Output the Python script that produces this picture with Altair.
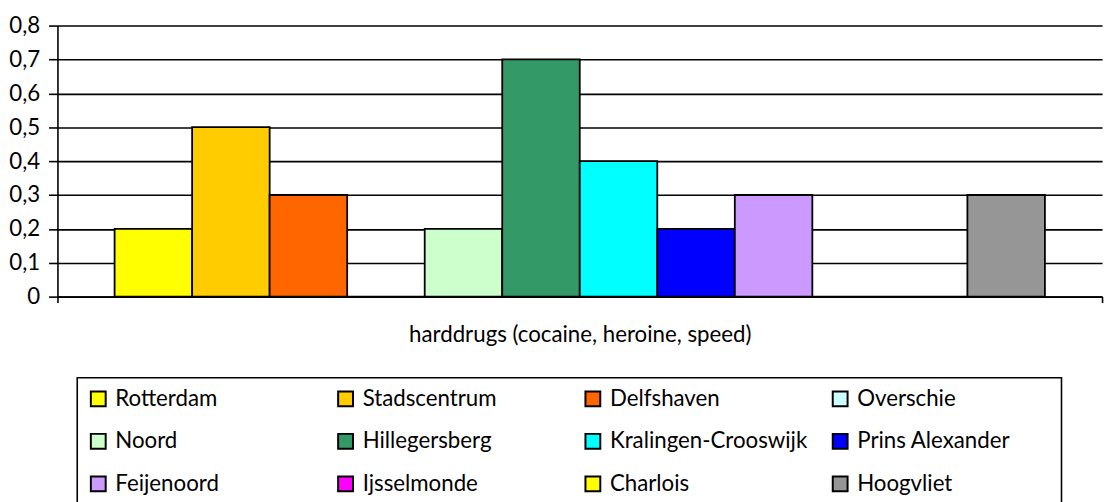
import altair as alt
import pandas as pd

category = "harddrugs (cocaine, heroine, speed)"
districts = ["Rotterdam", "Stadscentrum", "Delfshaven", "Overschie",
             "Noord", "Hillegersberg", "Kralingen-Crooswijk", "Prins Alexander",
             "Feijenoord", "Ijsselmonde", "Charlois", "Hoogvliet"]
values = [0.2, 0.5, 0.3, 0.0, 0.2, 0.7, 0.4, 0.2, 0.3, 0.0, 0.0, 0.3]
colors = ["#FFFF00", "#FFCC00", "#FF6600", "#CCFFFF",
          "#CCFFCC", "#339966", "#00FFFF", "#0000FF",
          "#CC99FF", "#FF00FF", "#FFFF00", "#969696"]
y_ticks = [0, 0.1, 0.2, 0.3, 0.4, 0.5, 0.6, 0.7, 0.8]

df = pd.DataFrame({"cat": [category] * len(districts),
                   "district": districts,
                   "value": values})

FONT = "Lato"

chart = alt.Chart(df).mark_bar(stroke="black", strokeWidth=1.8).encode(
    x=alt.X("cat:N", title="",
            scale=alt.Scale(paddingInner=0, paddingOuter=0),
            axis=alt.Axis(labelAngle=0, tickBand="extent", tickSize=6,
                          labelPadding=21, labelFont=FONT, labelFontSize=22.5,
                          labelColor="black", domainColor="black",
                          tickColor="black", domainWidth=1.6, tickWidth=1.6,
                          labelLimit=800)),
    xOffset=alt.XOffset("district:N",
                        scale=alt.Scale(domain=districts, paddingInner=0,
                                        paddingOuter=0.737)),
    y=alt.Y("value:Q", title="",
            scale=alt.Scale(domain=[0, 0.8], nice=False),
            axis=alt.Axis(values=y_ticks, grid=True, gridColor="black",
                          gridWidth=1.6, domainColor="black", domainWidth=1.6,
                          tickColor="black", tickWidth=1.6, tickSize=9,
                          labelPadding=9, labelFont=FONT, labelFontSize=22.5,
                          labelColor="black",
                          labelExpr="datum.value == 0 ? '0' : replace(format(datum.value, '.1f'), '.', ',')")),
    color=alt.Color("district:N",
                    scale=alt.Scale(domain=districts, range=colors),
                    legend=alt.Legend(title=" ", titleOrient="right",
                                      titlePadding=42, titleFontSize=10,
                                      orient="none",
                                      direction="horizontal",
                                      legendX=20, legendY=356,
                                      columns=4, gridAlign="all",
                                      columnPadding=20, rowPadding=19,
                                      symbolType="square", symbolSize=225,
                                      symbolStrokeColor="black",
                                      symbolStrokeWidth=2,
                                      labelFont=FONT, labelFontSize=22.5,
                                      labelColor="black", labelOffset=6,
                                      labelLimit=400,
                                      strokeColor="black", padding=10)),
).properties(
    width=1056,
    height=274,
    autosize=alt.AutoSizeParams(type="none"),
    padding={"left": 50, "top": 15, "right": 5, "bottom": 220},
).configure_view(strokeWidth=0).configure_legend(strokeWidth=1.6)

chart.save("out.html", embed_options={"renderer": "svg", "actions": False})
